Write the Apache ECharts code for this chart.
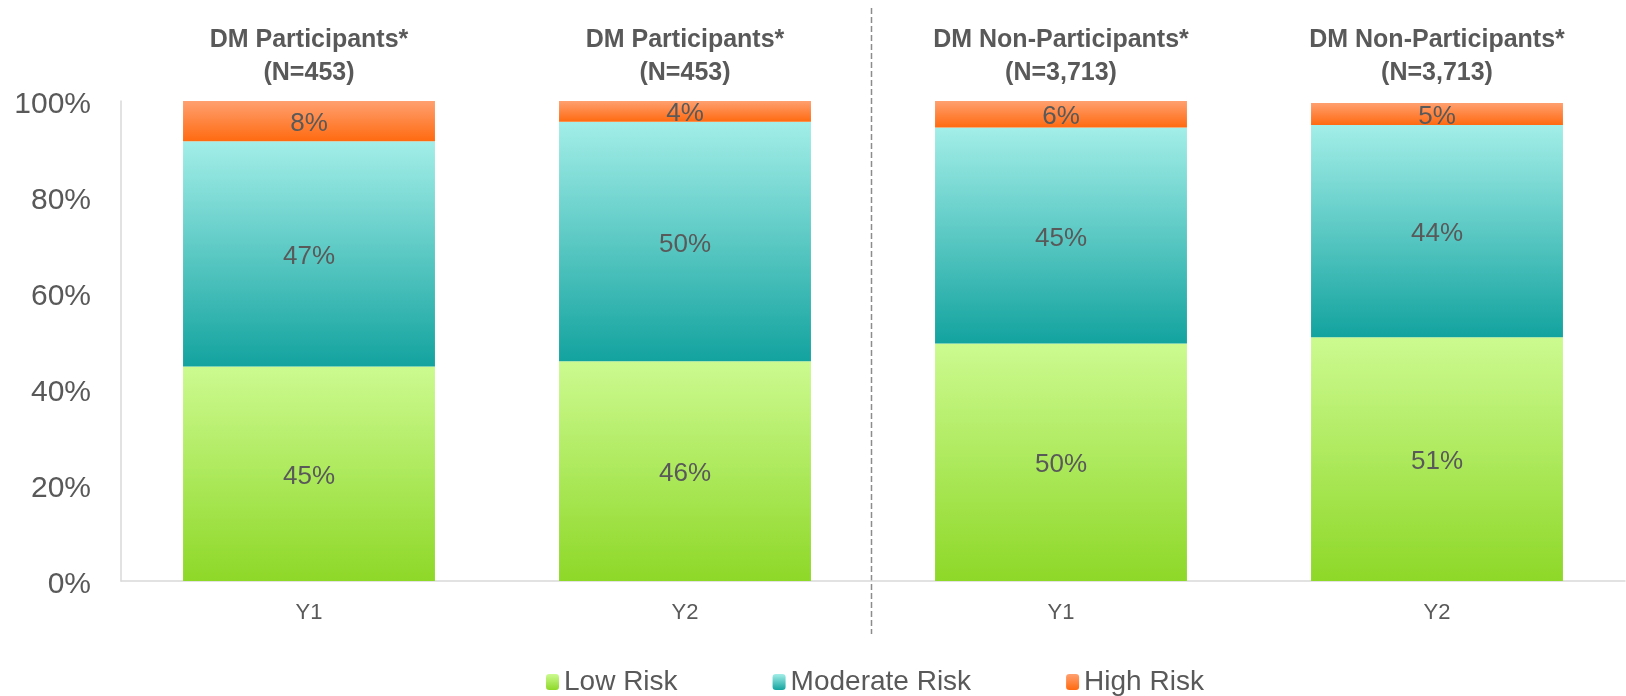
<!DOCTYPE html>
<html>
<head>
<meta charset="utf-8">
<title>DM risk</title>
<script src="https://cdn.jsdelivr.net/npm/echarts@6/dist/echarts.min.js"></script>
<style>
html, body { margin: 0; padding: 0; background: #fff; }
#main { width: 1626px; height: 696px; }
</style>
</head>
<body>
<div id="main"></div>
<script>
// data
var categories = ['Y1', 'Y2', 'Y1', 'Y2'];
var groupHeaders = ['DM Participants*\n(N=453)', 'DM Participants*\n(N=453)', 'DM Non-Participants*\n(N=3,713)', 'DM Non-Participants*\n(N=3,713)'];
var lowRisk = [44.7, 45.8, 49.5, 50.8];
var moderateRisk = [46.9, 49.9, 45.0, 44.2];
var highRisk = [8.4, 4.3, 5.5, 4.6];
var yTicks = [0, 20, 40, 60, 80, 100];

var textColor = '#595959';
var font = 'Liberation Sans, Arial, sans-serif';

function grad(top, bottom) {
    return new echarts.graphic.LinearGradient(0, 0, 0, 1, [
        { offset: 0, color: top },
        { offset: 1, color: bottom }
    ]);
}

function barSeries(name, data, top, bottom) {
    return {
        name: name,
        type: 'bar',
        stack: 'risk',
        barCategoryGap: '33%',
        data: data,
        itemStyle: { color: grad(top, bottom) },
        label: {
            show: true,
            position: 'inside',
            offset: [0, 3],
            color: textColor,
            fontSize: 26,
            fontFamily: font,
            formatter: function (p) { return Math.round(p.value) + '%'; }
        }
    };
}

var myChart = echarts.init(document.getElementById('main'));

var option = {
    animation: false,
    grid: { left: 121, right: 1, top: 101, bottom: 115 },
    legend: {
        top: 668,
        left: 546,
        padding: 0,
        itemWidth: 13,
        itemHeight: 16,
        itemGap: 95,
        textStyle: { color: textColor, fontSize: 28, fontFamily: font },
        data: ['Low Risk', 'Moderate Risk', 'High Risk']
    },
    xAxis: [{
        type: 'category',
        data: categories,
        axisLine: { lineStyle: { color: '#d9d9d9', width: 1.5 } },
        axisTick: { show: false },
        axisLabel: { color: textColor, fontSize: 22, margin: 21, fontFamily: font }
    }, {
        type: 'category',
        position: 'top',
        data: groupHeaders,
        axisLine: { show: false },
        axisTick: { show: false },
        axisLabel: {
            color: textColor,
            fontSize: 25,
            fontWeight: 'bold',
            lineHeight: 33,
            margin: 11,
            fontFamily: font
        }
    }],
    yAxis: {
        type: 'value',
        min: 0,
        max: 100,
        interval: 20,
        splitLine: { show: false },
        axisLine: { show: true, lineStyle: { color: '#d9d9d9', width: 1.5 } },
        axisTick: { show: false },
        axisLabel: {
            margin: 30,
            formatter: function (v) { return yTicks.indexOf(v) >= 0 ? '{t|' + v + '%}' : ''; },
            rich: {
                t: { color: textColor, fontSize: 30, fontFamily: font, padding: [8, 0, 0, 0] }
            }
        }
    },
    series: [
        barSeries('Low Risk', lowRisk, '#CCFA90', '#8ED828'),
        barSeries('Moderate Risk', moderateRisk, '#A3EEE8', '#13A39F'),
        barSeries('High Risk', highRisk, '#FFA070', '#FF6A10')
    ]
};

myChart.setOption(option);

// dashed separator between the two groups
var x1 = myChart.convertToPixel({ xAxisIndex: 0 }, 1);
var x2 = myChart.convertToPixel({ xAxisIndex: 0 }, 2);
var sepX = Math.round((x1 + x2) / 2) - 2 + 0.5;
myChart.setOption({
    graphic: [{
        type: 'line',
        shape: { x1: sepX, y1: 8, x2: sepX, y2: 634 },
        style: { stroke: '#8c8c8c', lineWidth: 1.5, lineDash: [6, 3] }
    }]
});
</script>
</body>
</html>
